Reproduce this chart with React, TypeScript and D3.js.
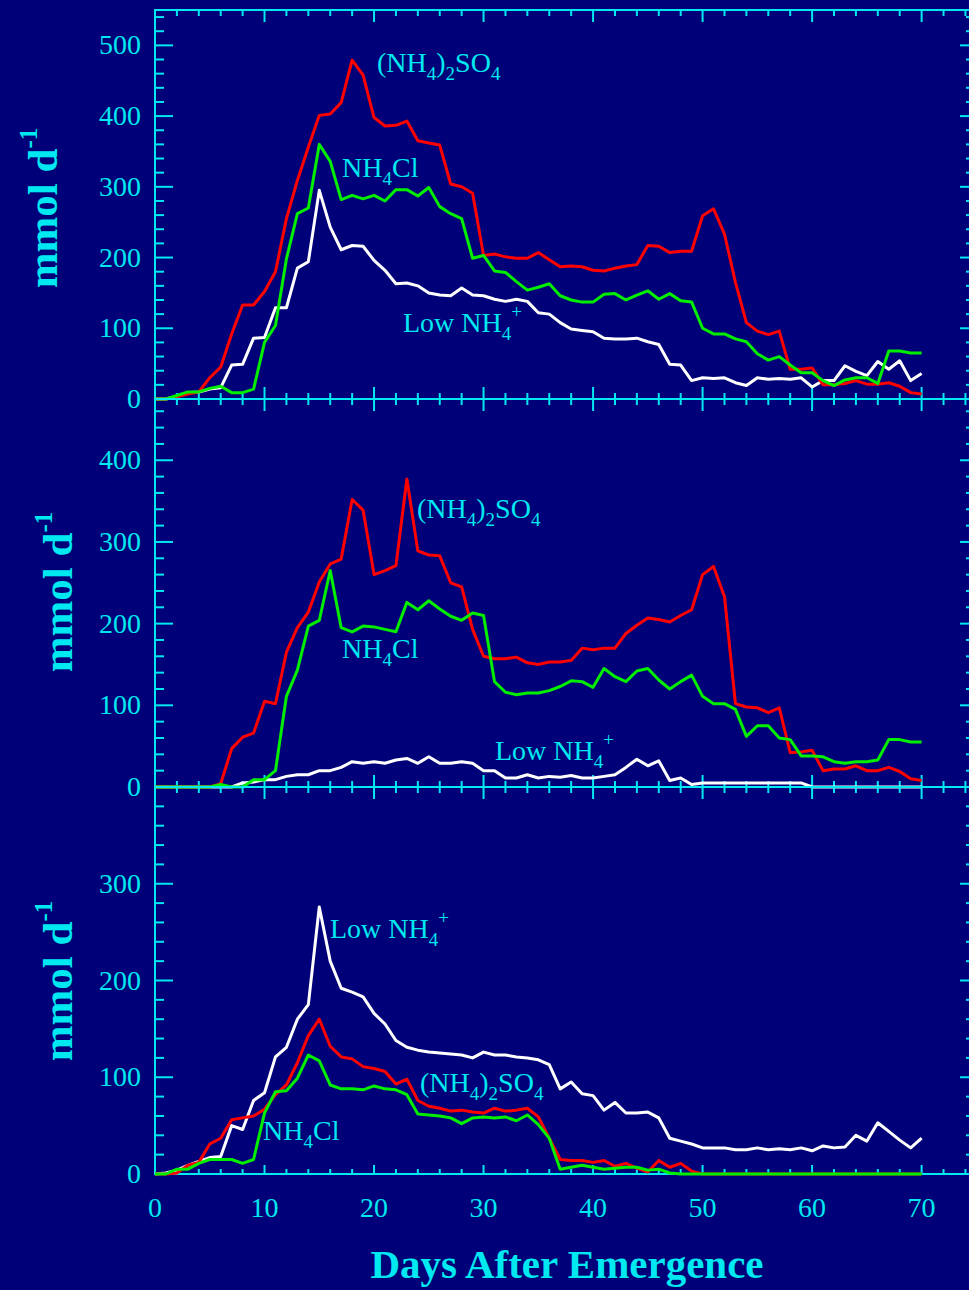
import React from 'react';
import * as d3 from 'd3';

// colours of the original slide
const BG = '#000078';
const CYAN = '#00e8f0';
const RED = '#ff0000';
const GREEN = '#00ee00';
const WHITE = '#ffffff';
const FONT = '"Liberation Serif", "Times New Roman", serif';

// x axis
const xTickLabels = [0, 10, 20, 30, 40, 50, 60, 70];

// panel 1 (top), one value per day from day 0 to day 70
const sulfateTop = [0, 0, 3, 7, 10, 30, 45, 92, 133, 133, 152, 180, 255, 309, 356, 401, 403, 419, 479, 458, 398, 386, 387, 393, 365, 362, 359, 304, 300, 291, 203, 205, 201, 199, 199, 207, 197, 187, 188, 187, 182, 181, 185, 188, 190, 217, 216, 207, 209, 209, 259, 269, 233, 165, 108, 96, 91, 96, 42, 42, 44, 20, 20, 22, 26, 21, 21, 23, 18, 9, 7];
const chlorideTop = [0, 0, 5, 10, 10, 15, 18, 9, 9, 14, 80, 104, 198, 262, 270, 360, 336, 282, 288, 283, 288, 280, 296, 296, 287, 299, 272, 262, 255, 199, 203, 181, 179, 166, 154, 158, 163, 146, 140, 137, 137, 148, 149, 140, 147, 153, 141, 149, 139, 137, 100, 92, 92, 85, 81, 64, 55, 60, 48, 37, 37, 26, 19, 27, 30, 30, 22, 68, 68, 65, 65];
const lowTop = [0, 0, 4, 9, 10, 14, 16, 48, 49, 86, 87, 129, 129, 185, 194, 295, 243, 211, 217, 216, 196, 182, 163, 164, 160, 150, 147, 146, 157, 147, 146, 141, 138, 141, 138, 122, 120, 108, 99, 97, 95, 86, 85, 85, 86, 81, 77, 49, 48, 26, 30, 29, 30, 23, 19, 30, 28, 29, 28, 30, 17, 26, 26, 47, 39, 33, 53, 42, 54, 26, 36];

// panel 2 (middle)
const sulfateMid = [0, 0, 0, 0, 0, 0, 4, 47, 61, 66, 105, 102, 165, 195, 214, 251, 273, 279, 352, 339, 260, 265, 271, 377, 289, 284, 283, 250, 245, 193, 160, 157, 157, 159, 152, 150, 153, 153, 155, 170, 168, 170, 170, 188, 198, 207, 205, 202, 210, 217, 260, 270, 233, 102, 98, 97, 91, 97, 42, 43, 45, 20, 22, 22, 26, 20, 20, 24, 19, 10, 8];
const chlorideMid = [0, 0, 0, 0, 0, 0, 3, 0, 0, 9, 9, 20, 111, 143, 197, 204, 265, 195, 190, 197, 196, 193, 190, 226, 217, 228, 218, 209, 204, 213, 210, 129, 116, 113, 115, 115, 118, 123, 130, 129, 122, 145, 135, 129, 142, 145, 131, 120, 129, 137, 111, 102, 102, 95, 62, 75, 75, 60, 58, 38, 38, 37, 31, 29, 31, 31, 33, 58, 58, 55, 55];
const lowMid = [0, 0, 0, 0, 0, 0, 0, 0, 5, 6, 9, 9, 13, 15, 15, 20, 20, 24, 31, 29, 31, 29, 33, 35, 29, 37, 29, 29, 31, 29, 20, 20, 11, 11, 15, 11, 13, 12, 14, 11, 11, 13, 15, 24, 34, 26, 32, 8, 11, 3, 5, 5, 5, 5, 5, 5, 5, 5, 5, 5, 0, 0, 0, 0, 0, 0, 0, 0, 0, 0, 0];

// panel 3 (bottom)
const sulfateLow = [0, 0, 1, 9, 12, 31, 37, 56, 58, 60, 67, 82, 92, 115, 143, 160, 132, 121, 119, 111, 109, 106, 93, 98, 76, 70, 68, 65, 66, 64, 63, 68, 65, 66, 68, 59, 37, 15, 14, 14, 12, 14, 8, 11, 6, 2, 14, 7, 11, 3, 0, 0, 0, 0, 0, 0, 0, 0, 0, 0, 0, 0, 0, 0, 0, 0, 0, 0, 0, 0, 0];
const chlorideLow = [0, 0, 5, 5, 11, 15, 15, 15, 11, 15, 63, 85, 86, 99, 123, 117, 92, 88, 88, 87, 91, 88, 87, 82, 62, 61, 60, 58, 52, 58, 59, 58, 59, 55, 61, 51, 37, 5, 7, 9, 7, 5, 6, 7, 7, 4, 5, 1, 0, 0, 0, 0, 0, 0, 0, 0, 0, 0, 0, 0, 0, 0, 0, 0, 0, 0, 0, 0, 0, 0, 0];
const lowLow = [0, 1, 4, 9, 13, 17, 18, 50, 46, 76, 84, 121, 131, 160, 175, 276, 220, 192, 188, 183, 166, 155, 138, 131, 128, 126, 125, 124, 123, 120, 126, 123, 123, 121, 120, 118, 113, 88, 95, 83, 81, 66, 74, 63, 63, 64, 58, 37, 34, 31, 27, 27, 27, 25, 25, 27, 25, 26, 25, 27, 24, 29, 27, 28, 40, 34, 53, 44, 35, 27, 37];

type LabelKind = 'sulfate' | 'chloride' | 'low';

interface Panel {
  top: number;
  bottom: number;
  max: number;
  sulfate: number[];
  chloride: number[];
  low: number[];
  titleX: number;
  titleY: number;
  labels: { kind: LabelKind; x: number; y: number }[];
  bottomTick: [number, number];
}

const LEFT = 155;
const RIGHT = 972;

const panels: Panel[] = [
  {
    top: 10, bottom: 399, max: 550,
    sulfate: sulfateTop, chloride: chlorideTop, low: lowTop,
    titleX: 57, titleY: 208,
    labels: [
      { kind: 'sulfate', x: 377, y: 72 },
      { kind: 'chloride', x: 342, y: 177 },
      { kind: 'low', x: 403, y: 332 },
    ],
    bottomTick: [12, 6],
  },
  {
    top: 399, bottom: 787, max: 475,
    sulfate: sulfateMid, chloride: chlorideMid, low: lowMid,
    titleX: 72, titleY: 592,
    labels: [
      { kind: 'sulfate', x: 417, y: 518 },
      { kind: 'chloride', x: 342, y: 658 },
      { kind: 'low', x: 495, y: 760 },
    ],
    bottomTick: [12, 6],
  },
  {
    top: 787, bottom: 1174, max: 400,
    sulfate: sulfateLow, chloride: chlorideLow, low: lowLow,
    titleX: 72, titleY: 981,
    labels: [
      { kind: 'low', x: 330, y: 938 },
      { kind: 'sulfate', x: 420, y: 1092 },
      { kind: 'chloride', x: 263, y: 1140 },
    ],
    bottomTick: [9, 5],
  },
];

const x = d3.scaleLinear().domain([0, 74.6]).range([LEFT, RIGHT]);
const xMinor = d3.range(0, 75, 2);

const SeriesLabel = ({ kind, x, y }: { kind: LabelKind; x: number; y: number }) => {
  if (kind === 'sulfate') {
    return (
      <text x={x} y={y} fill={CYAN} fontSize={28} fontFamily={FONT}>
        (NH<tspan dy={8} fontSize={19}>4</tspan><tspan dy={-8}>)</tspan>
        <tspan dy={8} fontSize={19}>2</tspan><tspan dy={-8}>SO</tspan>
        <tspan dy={8} fontSize={19}>4</tspan>
      </text>
    );
  }
  if (kind === 'chloride') {
    return (
      <text x={x} y={y} fill={CYAN} fontSize={28} fontFamily={FONT}>
        NH<tspan dy={8} fontSize={19}>4</tspan><tspan dy={-8}>Cl</tspan>
      </text>
    );
  }
  return (
    <text x={x} y={y} fill={CYAN} fontSize={28} fontFamily={FONT}>
      Low NH<tspan dy={8} fontSize={19}>4</tspan>
      <tspan dy={-22} fontSize={19}>+</tspan>
    </text>
  );
};

const PanelView = ({ p }: { p: Panel }) => {
  const y = d3.scaleLinear().domain([0, p.max]).range([p.bottom, p.top]);
  const line = d3.line<number>().x((_, i) => x(i)).y(d => y(d));
  const yMinor = d3.range(0, p.max + 1, 20);
  // the top edge of a panel carries no number
  const yMajor = d3.range(0, p.max, 100);
  return (
    <g>
      {/* y ticks, left and right */}
      {yMinor.map(v => {
        const major = v % 100 === 0;
        return (
          <g key={'y' + v}>
            <line x1={LEFT} x2={LEFT + (major ? 18 : 9)} y1={y(v)} y2={y(v)} stroke={CYAN} strokeWidth={2} />
            <line x1={RIGHT} x2={RIGHT - (major ? 12 : 6)} y1={y(v)} y2={y(v)} stroke={CYAN} strokeWidth={2} />
          </g>
        );
      })}
      {yMajor.map(v => (
        <text key={'yl' + v} x={141} y={y(v) + 9} textAnchor="end" fill={CYAN} fontSize={28} fontFamily={FONT}>
          {v}
        </text>
      ))}
      {/* x ticks, top and bottom, pointing inward */}
      {xMinor.map(v => {
        const major = v % 10 === 0;
        const tl = major ? 12 : 6;
        const bl = major ? p.bottomTick[0] : p.bottomTick[1];
        return (
          <g key={'x' + v}>
            <line x1={x(v)} x2={x(v)} y1={p.top} y2={p.top + tl} stroke={CYAN} strokeWidth={2} />
            <line x1={x(v)} x2={x(v)} y1={p.bottom} y2={p.bottom - bl} stroke={CYAN} strokeWidth={2} />
          </g>
        );
      })}
      <rect x={LEFT} y={p.top} width={RIGHT - LEFT} height={p.bottom - p.top} fill="none" stroke={CYAN} strokeWidth={2} />
      <text
        transform={`translate(${p.titleX},${p.titleY}) rotate(-90)`}
        textAnchor="middle"
        fill={CYAN}
        fontSize={43}
        fontWeight="bold"
        fontFamily={FONT}
      >
        mmol d<tspan dy={-20} fontSize={25}>-1</tspan>
      </text>
      <path d={line(p.low) || ''} fill="none" stroke={WHITE} strokeWidth={3} strokeLinejoin="round" />
      <path d={line(p.sulfate) || ''} fill="none" stroke={RED} strokeWidth={3} strokeLinejoin="round" />
      <path d={line(p.chloride) || ''} fill="none" stroke={GREEN} strokeWidth={3} strokeLinejoin="round" />
      {p.labels.map(l => <SeriesLabel key={l.kind} {...l} />)}
    </g>
  );
};

export default function App() {
  const last = panels[panels.length - 1];
  return (
    <svg
      width={969}
      height={1290}
      style={{ position: 'fixed', left: 0, top: 0, display: 'block', background: BG }}
    >
      <rect width={969} height={1290} fill={BG} />
      {panels.map((p, i) => <PanelView key={i} p={p} />)}
      {xTickLabels.map(v => (
        <text key={v} x={x(v)} y={last.bottom + 43} textAnchor="middle" fill={CYAN} fontSize={28} fontFamily={FONT}>
          {v}
        </text>
      ))}
      <text x={567} y={1278} textAnchor="middle" fill={CYAN} fontSize={41} fontWeight="bold" fontFamily={FONT}>
        Days After Emergence
      </text>
    </svg>
  );
}
